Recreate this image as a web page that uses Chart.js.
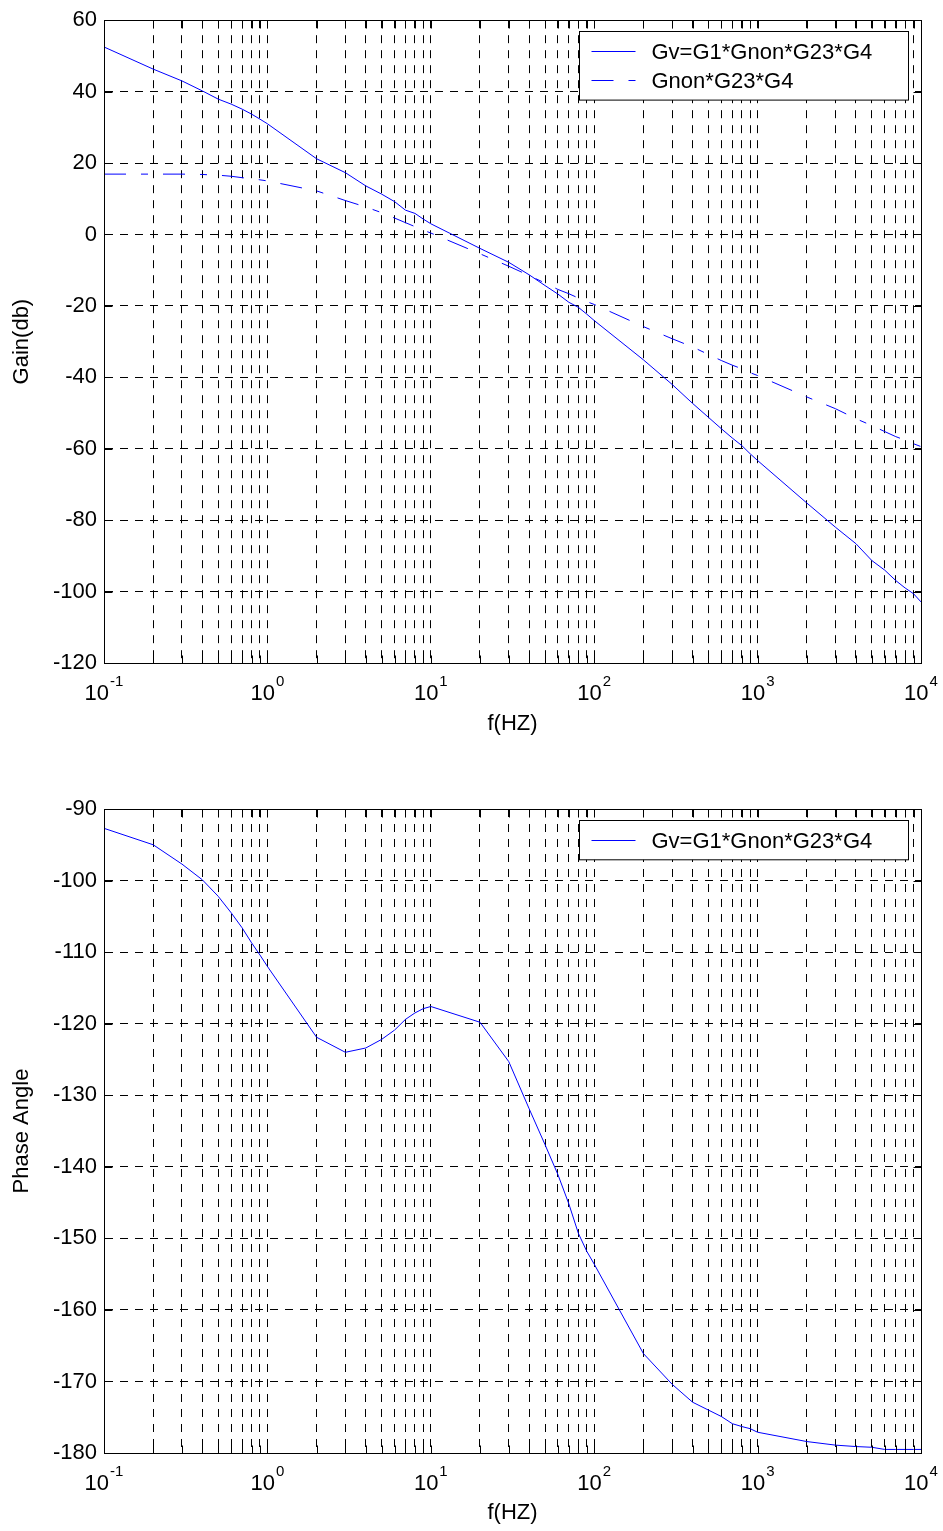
<!DOCTYPE html>
<html>
<head>
<meta charset="UTF-8">
<title>Bode plot</title>
<script src="https://cdn.jsdelivr.net/npm/chart.js"></script>
<style>
  body { margin: 0; background: #fff; }
  .box { position: absolute; left: 0; width: 943px; }
</style>
</head>
<body>
<div class="box" style="top:0;height:765px"><canvas id="gainChart" width="943" height="765"></canvas></div>
<div class="box" style="top:765px;height:766px"><canvas id="phaseChart" width="943" height="766"></canvas></div>

<script>
// frequencies (Hz) where the curves were sampled
var freq = [0.1, 0.2, 0.3, 0.4, 0.5, 0.6, 0.7, 0.8, 0.9,
            1, 2, 3, 4, 5, 6, 7, 8, 9,
            10, 20, 30, 40, 50, 60, 70, 80, 90,
            100, 200, 300, 400, 500, 600, 700, 800, 900,
            1000, 2000, 3000, 4000, 5000, 6000, 7000, 8000, 9000,
            10000];

// gain in dB, Gv=G1*Gnon*G23*G4
var gainGv = [52.5, 46.3, 43.0, 40.2, 37.9, 36.5, 35.1, 33.7, 32.3,
              31.0, 21.2, 17.3, 13.6, 11.3, 9.2, 6.8, 5.9, 4.3,
              3.0, -3.9, -7.8, -11.3, -14.3, -16.7, -19.0, -20.4, -22.3,
              -24.1, -35.1, -42.0, -47.3, -51.2, -54.4, -57.0, -59.1, -61.4,
              -63.3, -75.2, -82.0, -86.6, -91.3, -94.0, -96.9, -99.0, -100.6,
              -102.9];

// gain in dB, Gnon*G23*G4
var gainGnon = [16.9, 16.9, 16.9, 16.8, 16.6, 16.3, 15.9, 15.6, 15.3,
                15.0, 12.2, 9.5, 7.7, 6.1, 4.6, 3.3, 2.2, 1.2,
                0.4, -5.4, -8.9, -11.5, -13.6, -15.4, -16.6, -17.8, -18.8,
                -19.6, -25.8, -29.2, -31.5, -33.6, -35.3, -36.6, -37.6, -38.7,
                -39.5, -45.5, -48.8, -51.6, -53.5, -55.2, -56.6, -57.6, -58.6,
                -59.4];

// phase angle in degrees, Gv
var phaseGv = [-92.7, -95.0, -97.7, -99.9, -102.2, -104.5, -106.6, -108.7, -110.4,
               -112.0, -121.9, -124.0, -123.4, -122.2, -120.9, -119.4, -118.5, -117.9,
               -117.6, -119.8, -125.3, -131.9, -136.9, -141.1, -145.2, -149.3, -151.8,
               -153.6, -166.1, -170.4, -172.9, -174.0, -174.9, -175.9, -176.3, -176.6,
               -177.1, -178.4, -178.9, -179.1, -179.2, -179.5, -179.5, -179.5, -179.5,
               -179.5];

var decades = [0.1, 1, 10, 100, 1000, 10000];
var decadeExp = ['-1', '0', '1', '2', '3', '4'];

var labelGv = 'Gv=G1*Gnon*G23*G4';
var labelGnon = 'Gnon*G23*G4';

var FONT = "'Liberation Sans', Arial, sans-serif";

function pts(xs, ys) {
    return xs.map(function (x, i) { return {x: x, y: ys[i]}; });
}

// all decade + minor ticks of the log axis
function logTicks() {
    var t = [];
    for (var d = 0; d < decades.length - 1; d++) {
        for (var k = 1; k <= 9; k++) {
            t.push({value: k * decades[d], major: k === 1});
        }
    }
    t.push({value: decades[decades.length - 1], major: true});
    return t;
}

// box around the plot, inner ticks and 10^n labels
var framePlugin = {
    id: 'frame',
    afterDraw: function (chart) {
        var ctx = chart.ctx, a = chart.chartArea;
        var xs = chart.scales.x, ys = chart.scales.y;
        var L = Math.round(a.left) + 0.5, R = Math.round(a.right) + 0.5;
        var T = Math.round(a.top) + 0.5, B = Math.round(a.bottom) + 0.5;
        ctx.save();
        ctx.strokeStyle = '#000';
        ctx.lineWidth = 1;
        ctx.setLineDash([]);
        ctx.beginPath();
        ctx.rect(L, T, R - L, B - T);
        xs.ticks.forEach(function (t) {
            var x = Math.round(xs.getPixelForValue(t.value)) + 0.5;
            ctx.moveTo(x, B); ctx.lineTo(x, B - 8);
            ctx.moveTo(x, T); ctx.lineTo(x, T + 8);
        });
        ys.ticks.forEach(function (t) {
            var y = Math.round(ys.getPixelForValue(t.value)) + 0.5;
            ctx.moveTo(L, y); ctx.lineTo(L + 8, y);
            ctx.moveTo(R, y); ctx.lineTo(R - 8, y);
        });
        ctx.stroke();

        ctx.fillStyle = '#000';
        ctx.textAlign = 'left';
        ctx.textBaseline = 'alphabetic';
        decades.forEach(function (v, i) {
            var x = xs.getPixelForValue(v);
            ctx.font = '22px ' + FONT;
            var wb = ctx.measureText('10').width;
            ctx.font = '15px ' + FONT;
            var we = ctx.measureText(decadeExp[i]).width;
            var x0 = x - (wb + we + 1) / 2;
            ctx.font = '22px ' + FONT;
            ctx.fillText('10', x0, a.bottom + 37);
            ctx.font = '15px ' + FONT;
            ctx.fillText(decadeExp[i], x0 + wb + 1, a.bottom + 23);
        });
        ctx.restore();
    }
};

// matlab style legend box in the upper right corner
var boxLegend = {
    id: 'boxLegend',
    afterDraw: function (chart) {
        var ctx = chart.ctx, a = chart.chartArea;
        var ds = chart.data.datasets;
        var w = 329, rowH = 29.3;
        var h = 10 + ds.length * rowH;
        var left = Math.round(a.right - 13 - w) + 0.5;
        var top = Math.round(a.top + 11) + 0.5;
        ctx.save();
        ctx.fillStyle = '#fff';
        ctx.fillRect(left, top, w, h);
        ctx.strokeStyle = '#000';
        ctx.lineWidth = 1;
        ctx.strokeRect(left, top, w, h);
        ds.forEach(function (d, i) {
            var cy = Math.round(top + 5 + rowH * (i + 0.5)) + 0.5;
            ctx.strokeStyle = d.borderColor;
            ctx.setLineDash(d.borderDash || []);
            ctx.beginPath();
            ctx.moveTo(left + 12, cy);
            ctx.lineTo(left + 56, cy);
            ctx.stroke();
            ctx.setLineDash([]);
            ctx.fillStyle = '#000';
            ctx.font = '22px ' + FONT;
            ctx.textAlign = 'left';
            ctx.textBaseline = 'middle';
            ctx.fillText(d.label, left + 72, cy + 1);
        });
        ctx.restore();
    }
};

function makeChart(id, datasets, yMin, yMax, yStep, yTitle, padTop, xAxisH, xTitlePad) {
    return new Chart(document.getElementById(id), {
        type: 'line',
        data: {datasets: datasets},
        plugins: [framePlugin, boxLegend],
        options: {
            responsive: false,
            animation: false,
            devicePixelRatio: 1,
            layout: {padding: {top: padTop, right: 22, bottom: 0, left: 0}},
            plugins: {legend: {display: false}, tooltip: {enabled: false}},
            elements: {point: {radius: 0}, line: {tension: 0}},
            scales: {
                x: {
                    type: 'logarithmic',
                    min: 0.1,
                    max: 10000,
                    afterBuildTicks: function (s) { s.ticks = logTicks(); },
                    afterFit: function (s) { s.height = xAxisH; },
                    ticks: {display: false},
                    grid: {color: '#000', lineWidth: 1, drawTicks: false},
                    border: {display: true, color: '#000', width: 1, dash: [8, 7]},
                    title: {
                        display: true, text: 'f(HZ)', color: '#000',
                        font: {family: FONT, size: 22},
                        padding: {top: 0, bottom: xTitlePad}
                    }
                },
                y: {
                    type: 'linear',
                    min: yMin,
                    max: yMax,
                    afterFit: function (s) { s.width = 104; },
                    ticks: {stepSize: yStep, color: '#000', padding: 7,
                            font: {family: FONT, size: 22}},
                    grid: {color: '#000', lineWidth: 1, drawTicks: false},
                    border: {display: true, color: '#000', width: 1, dash: [8, 7]},
                    title: {
                        display: true, text: yTitle, color: '#000',
                        font: {family: FONT, size: 22},
                        padding: {top: 9, bottom: 0}
                    }
                }
            }
        }
    });
}

makeChart('gainChart', [
    {label: labelGv, data: pts(freq, gainGv), borderColor: '#0000ff', borderWidth: 1, fill: false},
    {label: labelGnon, data: pts(freq, gainGnon), borderColor: '#0000ff', borderWidth: 1,
     borderDash: [22, 15, 7, 15], fill: false}
], -120, 60, 20, 'Gain(db)', 19, 102, 28);

makeChart('phaseChart', [
    {label: labelGv, data: pts(freq, phaseGv), borderColor: '#0000ff', borderWidth: 1, fill: false}
], -180, -90, 10, 'Phase Angle', 44, 78, 5);
</script>
</body>
</html>
